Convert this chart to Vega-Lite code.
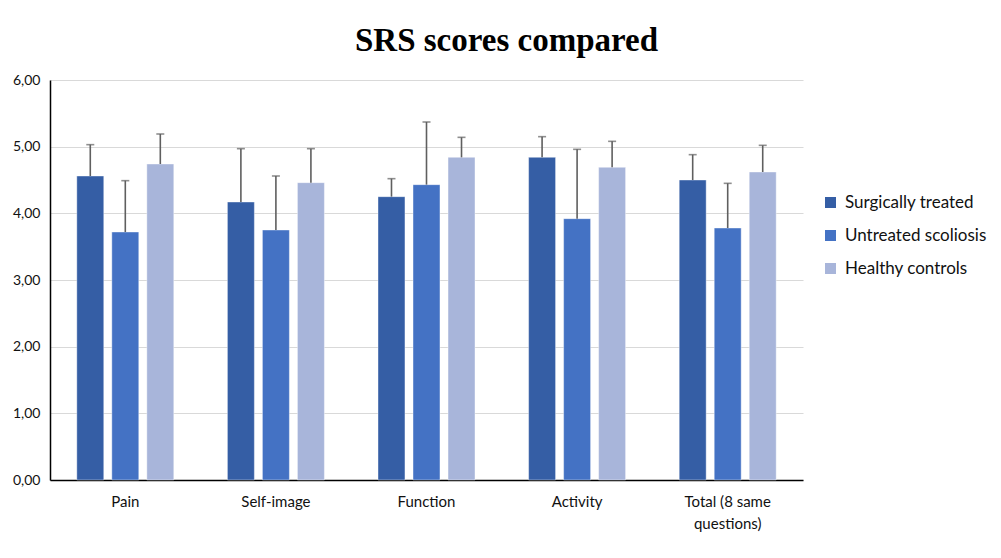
{
  "$schema": "https://vega.github.io/schema/vega-lite/v6.json",
  "width": 753,
  "height": 400,
  "autosize": "none",
  "padding": {"left": 50, "top": 80, "right": 198, "bottom": 78},
  "background": "white",
  "config": {"view": {"stroke": null}, "font": "Lato"},
  "title": {
    "text": "SRS scores compared",
    "font": "Liberation Serif",
    "fontSize": 33,
    "fontWeight": "bold",
    "color": "#000000",
    "anchor": "middle",
    "dx": 80,
    "offset": 15
  },
  "data": {
    "values": [
      {"category": "Pain", "group": "Surgically treated", "mean": 4.56, "upper": 5.03},
      {"category": "Pain", "group": "Untreated scoliosis", "mean": 3.72, "upper": 4.49},
      {"category": "Pain", "group": "Healthy controls", "mean": 4.74, "upper": 5.19},
      {"category": "Self-image", "group": "Surgically treated", "mean": 4.17, "upper": 4.97},
      {"category": "Self-image", "group": "Untreated scoliosis", "mean": 3.75, "upper": 4.56},
      {"category": "Self-image", "group": "Healthy controls", "mean": 4.46, "upper": 4.97},
      {"category": "Function", "group": "Surgically treated", "mean": 4.25, "upper": 4.52},
      {"category": "Function", "group": "Untreated scoliosis", "mean": 4.43, "upper": 5.37},
      {"category": "Function", "group": "Healthy controls", "mean": 4.84, "upper": 5.14},
      {"category": "Activity", "group": "Surgically treated", "mean": 4.84, "upper": 5.15},
      {"category": "Activity", "group": "Untreated scoliosis", "mean": 3.92, "upper": 4.96},
      {"category": "Activity", "group": "Healthy controls", "mean": 4.69, "upper": 5.08},
      {"category": "Total (8 same questions)", "group": "Surgically treated", "mean": 4.50, "upper": 4.88},
      {"category": "Total (8 same questions)", "group": "Untreated scoliosis", "mean": 3.78, "upper": 4.45},
      {"category": "Total (8 same questions)", "group": "Healthy controls", "mean": 4.62, "upper": 5.02}
    ]
  },
  "encoding": {
    "x": {
      "field": "category",
      "type": "nominal",
      "sort": ["Pain", "Self-image", "Function", "Activity", "Total (8 same questions)"],
      "scale": {"paddingInner": 0.356, "paddingOuter": 0.178},
      "axis": {
        "title": null,
        "labelAngle": 0,
        "ticks": false,
        "domainColor": "#000000",
        "domainWidth": 1.5,
        "labelFontSize": 15,
        "labelColor": "#111111",
        "labelPadding": 14,
        "labelLineHeight": 22,
        "labelBaseline": "top",
        "labelExpr": "datum.label == 'Total (8 same questions)' ? ['Total (8 same', 'questions)'] : datum.label"
      }
    },
    "xOffset": {
      "field": "group",
      "type": "nominal",
      "sort": ["Surgically treated", "Untreated scoliosis", "Healthy controls"],
      "scale": {"paddingInner": 0.23, "paddingOuter": 0}
    }
  },
  "layer": [
    {
      "mark": {"type": "bar", "stroke": "#ffffff", "strokeOpacity": 0.4, "strokeWidth": 1},
      "encoding": {
        "y": {
          "field": "mean",
          "type": "quantitative",
          "scale": {"domain": [0, 6], "nice": false},
          "axis": {
            "title": null,
            "values": [0, 1, 2, 3, 4, 5, 6],
            "ticks": false,
            "domainColor": "#000000",
            "domainWidth": 1.5,
            "gridColor": "#d9d9d9",
            "gridWidth": 1.2,
            "labelFontSize": 14,
            "labelColor": "#111111",
            "labelPadding": 10,
            "labelExpr": "replace(format(datum.value, '.2f'), '.', ',')"
          }
        },
        "color": {
          "field": "group",
          "type": "nominal",
          "sort": ["Surgically treated", "Untreated scoliosis", "Healthy controls"],
          "scale": {
            "domain": ["Surgically treated", "Untreated scoliosis", "Healthy controls"],
            "range": ["#355ea5", "#4472c4", "#a8b5da"]
          },
          "legend": {
            "title": null,
            "orient": "none",
            "legendX": 772,
            "legendY": 114,
            "symbolType": "square",
            "symbolSize": 121,
            "symbolStrokeWidth": 0,
            "labelFontSize": 17,
            "labelColor": "#111111",
            "labelOffset": 6,
            "rowPadding": 15
          }
        }
      }
    },
    {
      "mark": {"type": "rule", "color": "#5f5f5f", "strokeWidth": 1.6},
      "encoding": {
        "y": {"field": "mean", "type": "quantitative"},
        "y2": {"field": "upper"}
      }
    },
    {
      "mark": {"type": "tick", "color": "#5f5f5f", "size": 8, "thickness": 1.6},
      "encoding": {
        "y": {"field": "upper", "type": "quantitative"}
      }
    }
  ]
}
